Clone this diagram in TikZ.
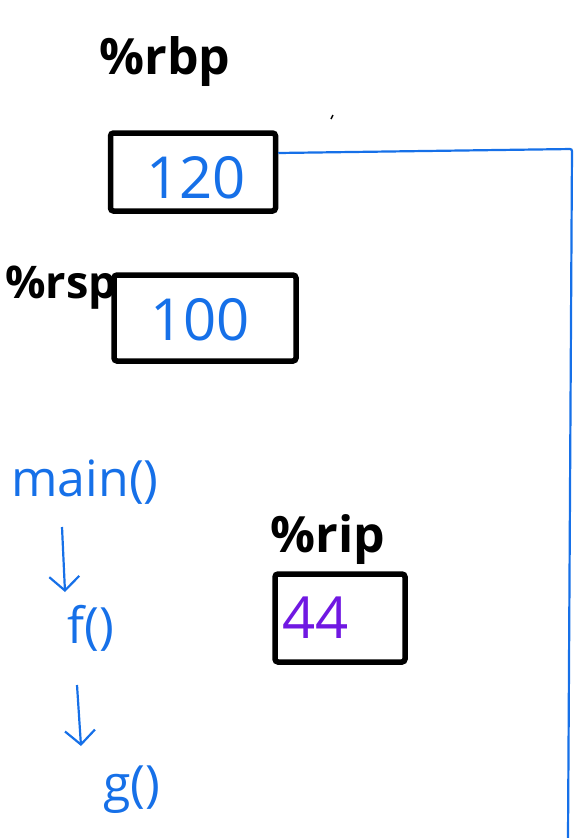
\documentclass[tikz,border=0pt]{standalone}
\usepackage{fontspec}
\setmainfont{Open Sans}
\usetikzlibrary{arrows.meta}
\definecolor{penblue}{RGB}{22,112,232}
\definecolor{penpurple}{RGB}{112,24,226}
\tikzset{
  reglabel/.style={font=\fontsize{50}{50}\selectfont\bfseries, inner sep=0pt},
  regbox/.style={draw, line width=5.5pt, rounded corners=3pt, inner sep=0pt},
  value/.style={text=penblue, font=\fontsize{58}{58}\selectfont, inner sep=0pt},
  func/.style={text=penblue, font=\fontsize{50}{50}\selectfont, inner sep=0pt},
  flow/.style={penblue, line width=2.2pt, -{Straight Barb[length=14pt,width=30pt]}},
  wire/.style={penblue, line width=2.2pt, rounded corners=2pt}
}
\begin{document}
\begin{tikzpicture}[x=1pt,y=-1pt]
  \useasboundingbox (0,0) rectangle (579,838);

  % registers
  \node[reglabel] (rbp) at (165,62) {\%rbp};
  \node[regbox, minimum width=165pt, minimum height=78pt] (rbpbox) at (193,172) {};
  \node[value] (rbpval) at (196,178) {120};

  \node[reglabel, font=\fontsize{45}{45}\selectfont\bfseries] (rsp) at (61,288) {\%rsp};
  \node[regbox, minimum width=182pt, minimum height=86pt] (rspbox) at (205,318) {};
  \node[value] (rspval) at (200,320) {100};

  \node[reglabel] (rip) at (328,540) {\%rip};
  \node[regbox, minimum width=130pt, minimum height=88pt] (ripbox) at (340,618) {};
  \node[value, text=penpurple, anchor=west] (ripval) at ([xshift=10pt]ripbox.west) {44};

  \draw[line width=1.5pt] (331,119) -- (333,115);

  % link from rbp
  \coordinate (corner) at (572,149);
  \coordinate (down) at (568,838);
  \draw[wire] ([yshift=19pt]rbpbox.east) -- (corner) -- (down);

  % call chain
  \node[func] (main) at (85,482) {main()};
  \node[func] (f) at (91,628) {f()};
  \node[func] (g) at (132,790) {g()};

  \draw[flow] (62,527) -- (65,592);
  \draw[flow] (77,685) -- (81,746);
\end{tikzpicture}
\end{document}
